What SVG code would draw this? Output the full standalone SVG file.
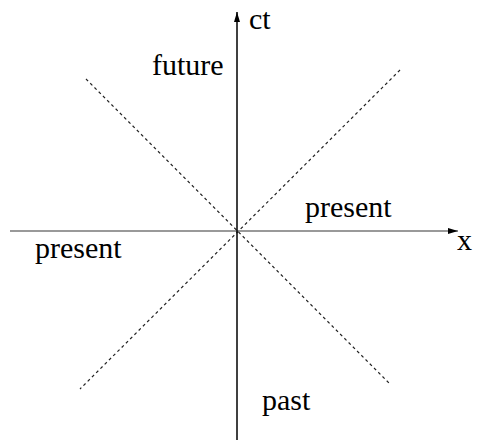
<svg xmlns="http://www.w3.org/2000/svg" width="487" height="443" viewBox="0 0 487 443">
<style>
.t{font-family:'Liberation Serif','Times New Roman',serif;font-size:30px;fill:#000}
.diag{stroke:#222;stroke-width:1.2;stroke-dasharray:3,3;fill:none}
</style>
<defs>
<marker id="ah" markerWidth="10" markerHeight="6" refX="10" refY="3" orient="auto" markerUnits="userSpaceOnUse">
<path d="M0,0 L10,3 L0,6 Z" fill="#000"/>
</marker>
</defs>
<g id="connectors">
<line class="diag" x1="86" y1="79" x2="390" y2="384"/>
<line class="diag" x1="400" y1="70" x2="80" y2="389"/>
<line x1="10" y1="231" x2="458" y2="231" stroke="#777" stroke-width="1.5" marker-end="url(#ah)"/>
<line x1="237" y1="440" x2="237" y2="12" stroke="#000" stroke-width="1.5" marker-end="url(#ah)"/>
</g>
<g id="label-ct"><text class="t" x="249" y="29">ct</text></g>
<g id="label-x"><text class="t" x="457" y="250">x</text></g>
<g id="label-future"><text class="t" x="152" y="75">future</text></g>
<g id="label-present-right"><text class="t" x="305" y="217">present</text></g>
<g id="label-present-left"><text class="t" x="35" y="258">present</text></g>
<g id="label-past"><text class="t" x="262" y="410">past</text></g>
</svg>
